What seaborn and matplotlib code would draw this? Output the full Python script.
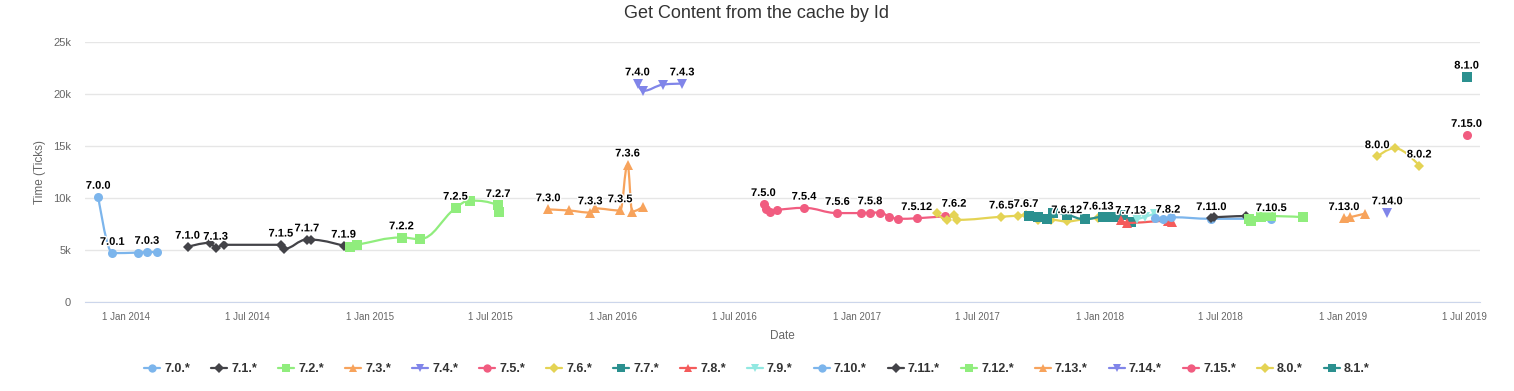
import matplotlib
matplotlib.use('Agg')
import matplotlib.pyplot as plt
import matplotlib.patheffects as pe
from matplotlib.lines import Line2D
from matplotlib.path import Path
from matplotlib.patches import PathPatch
from matplotlib.ticker import FuncFormatter, MultipleLocator
import matplotlib.dates as mdates
import pandas as pd
import seaborn as sns

SERIES = ["7.0.*", "7.1.*", "7.2.*", "7.3.*", "7.4.*", "7.5.*", "7.6.*", "7.7.*", "7.8.*",
          "7.9.*", "7.10.*", "7.11.*", "7.12.*", "7.13.*", "7.14.*", "7.15.*", "8.0.*", "8.1.*"]
COLORS = ["#7cb5ec", "#434348", "#90ed7d", "#f7a35c", "#8085e9", "#f15c80", "#e4d354", "#2b908f",
          "#f45b5b", "#91e8e1", "#7cb5ec", "#434348", "#90ed7d", "#f7a35c", "#8085e9", "#f15c80",
          "#e4d354", "#2b908f"]
MARKERS = ["o", "D", "s", "^", "v"] * 3 + ["o", "D", "s"]

DATES = {
    "7.0.*": ["2013-11-20", "2013-12-11", "2014-01-18", "2014-02-01", "2014-02-16"],
    "7.1.*": ["2014-04-03", "2014-05-07", "2014-05-15", "2014-05-27", "2014-08-21", "2014-08-25",
              "2014-09-29", "2014-10-05", "2014-11-23"],
    "7.2.*": ["2014-12-02", "2014-12-13", "2015-02-18", "2015-03-17", "2015-05-10", "2015-06-01",
              "2015-07-13", "2015-07-14"],
    "7.3.*": ["2015-09-26", "2015-10-27", "2015-11-28", "2015-12-05", "2016-01-12", "2016-01-23",
              "2016-01-30", "2016-02-15"],
    "7.4.*": ["2016-02-07", "2016-02-15", "2016-03-16", "2016-04-14"],
    "7.5.*": ["2016-08-14", "2016-08-18", "2016-08-23", "2016-09-03", "2016-10-14", "2016-12-03",
              "2017-01-07", "2017-01-21", "2017-02-05", "2017-02-19", "2017-03-04", "2017-04-01",
              "2017-05-13"],
    "7.6.*": ["2017-05-01", "2017-05-16", "2017-05-27", "2017-06-01", "2017-08-06", "2017-08-31",
              "2017-09-12", "2017-09-30", "2017-10-20", "2017-11-12", "2017-12-07", "2017-12-29"],
    "7.7.*": ["2017-09-16", "2017-09-30", "2017-10-13", "2017-10-22", "2017-11-12", "2017-12-09",
              "2018-01-06", "2018-01-21", "2018-02-04", "2018-02-16"],
    "7.8.*": ["2018-02-01", "2018-02-10", "2018-04-13", "2018-04-19"],
    "7.9.*": ["2018-02-25", "2018-03-10", "2018-03-24"],
    "7.10.*": ["2018-03-24", "2018-04-06", "2018-04-18", "2018-06-17", "2018-08-13", "2018-09-15"],
    "7.11.*": ["2018-06-17", "2018-06-21", "2018-08-08"],
    "7.12.*": ["2018-08-13", "2018-08-16", "2018-08-31", "2018-09-15", "2018-11-02"],
    "7.13.*": ["2019-01-02", "2019-01-11", "2019-02-02"],
    "7.14.*": ["2019-03-08"],
    "7.15.*": ["2019-07-05"],
    "8.0.*": ["2019-02-21", "2019-03-19", "2019-04-25"],
    "8.1.*": ["2019-07-05"],
}

VALUES = {
    "7.0.*": [10100, 4700, 4750, 4800, 4800],
    "7.1.*": [5300, 5700, 5200, 5500, 5500, 5100, 6000, 6000, 5400],
    "7.2.*": [5300, 5500, 6200, 6050, 9050, 9750, 9300, 8700],
    "7.3.*": [8900, 8800, 8600, 9000, 8800, 13200, 8700, 9150],
    "7.4.*": [21000, 20300, 20900, 21000],
    "7.5.*": [9400, 8900, 8700, 8850, 9050, 8550, 8550, 8600, 8600, 8200, 8000, 8050, 8250],
    "7.6.*": [8530, 7900, 8370, 7900, 8200, 8300, 8350, 7900, 7900, 7750, 7950, 8100],
    "7.7.*": [8270, 8150, 7950, 8600, 8400, 7950, 8200, 8150, 8400, 7700],
    "7.8.*": [7900, 7600, 7800, 7700],
    "7.9.*": [7950, 8200, 8500],
    "7.10.*": [8050, 7950, 8150, 8000, 8000, 7950],
    "7.11.*": [8050, 8150, 8270],
    "7.12.*": [7950, 7800, 8150, 8270, 8150],
    "7.13.*": [8050, 8150, 8500],
    "7.14.*": [8600],
    "7.15.*": [16050],
    "8.0.*": [14000, 14800, 13100],
    "8.1.*": [21650],
}

# (series, point index, version text) for the data labels that are visible
POINT_LABELS = [
    ("7.0.*", 0, "7.0.0"), ("7.0.*", 1, "7.0.1"), ("7.0.*", 3, "7.0.3"),
    ("7.1.*", 0, "7.1.0"), ("7.1.*", 2, "7.1.3"), ("7.1.*", 4, "7.1.5"), ("7.1.*", 6, "7.1.7"),
    ("7.1.*", 8, "7.1.9"),
    ("7.2.*", 2, "7.2.2"), ("7.2.*", 4, "7.2.5"), ("7.2.*", 6, "7.2.7"),
    ("7.3.*", 0, "7.3.0"), ("7.3.*", 2, "7.3.3"), ("7.3.*", 4, "7.3.5"), ("7.3.*", 5, "7.3.6"),
    ("7.4.*", 0, "7.4.0"), ("7.4.*", 3, "7.4.3"),
    ("7.5.*", 0, "7.5.0"), ("7.5.*", 4, "7.5.4"), ("7.5.*", 5, "7.5.6"), ("7.5.*", 7, "7.5.8"),
    ("7.5.*", 11, "7.5.12"),
    ("7.6.*", 2, "7.6.2"), ("7.6.*", 4, "7.6.5"), ("7.6.*", 6, "7.6.7"), ("7.6.*", 9, "7.6.12"),
    ("7.6.*", 11, "7.6.13"),
    ("7.7.*", 9, "7.7.13"), ("7.8.*", 2, "7.8.2"), ("7.10.*", 5, "7.10.5"), ("7.11.*", 0, "7.11.0"),
    ("7.13.*", 0, "7.13.0"), ("7.14.*", 0, "7.14.0"), ("7.15.*", 0, "7.15.0"),
    ("8.0.*", 0, "8.0.0"), ("8.0.*", 2, "8.0.2"), ("8.1.*", 0, "8.1.0"),
]


def spline_path(xs, ys, smoothing=1.5):
    # cubic bezier path built the way highcharts draws its "spline" series
    n = len(xs)
    left = [None] * n
    right = [None] * n
    for i in range(1, n - 1):
        px, py = xs[i], ys[i]
        lx, ly = xs[i - 1], ys[i - 1]
        nx, ny = xs[i + 1], ys[i + 1]
        d = smoothing + 1
        lcx, lcy = (smoothing * px + lx) / d, (smoothing * py + ly) / d
        rcx, rcy = (smoothing * px + nx) / d, (smoothing * py + ny) / d
        corr = 0
        if rcx != lcx:
            corr = (rcy - lcy) * (rcx - px) / (rcx - lcx) + py - rcy
        lcy += corr
        rcy += corr
        if lcy > ly and lcy > py:
            lcy = max(ly, py)
            rcy = 2 * py - lcy
        elif lcy < ly and lcy < py:
            lcy = min(ly, py)
            rcy = 2 * py - lcy
        if rcy > ny and rcy > py:
            rcy = max(ny, py)
            lcy = 2 * py - rcy
        elif rcy < ny and rcy < py:
            rcy = min(ny, py)
            lcy = 2 * py - rcy
        left[i] = (lcx, lcy)
        right[i] = (rcx, rcy)
    verts = [(xs[0], ys[0])]
    codes = [Path.MOVETO]
    for i in range(1, n):
        c1 = right[i - 1] or (xs[i - 1], ys[i - 1])
        c2 = left[i] or (xs[i], ys[i])
        verts += [c1, c2, (xs[i], ys[i])]
        codes += [Path.CURVE4] * 3
    return Path(verts, codes)


rows = []
for s in SERIES:
    for d, v in zip(DATES[s], VALUES[s]):
        rows.append({"date": pd.Timestamp(d), "value": v, "series": s})
df = pd.DataFrame(rows)

sns.set_style("white")
plt.rcParams['font.family'] = ['Liberation Sans', 'DejaVu Sans']

fig = plt.figure(figsize=(15.14, 3.91), dpi=100)
ax = fig.add_axes([85 / 1514, 1 - 302 / 391, (1480 - 85) / 1514, (302 - 42) / 391])

# markers through seaborn, connecting splines drawn underneath each series
sns.lineplot(
    data=df, x="date", y="value", hue="series", style="series",
    hue_order=SERIES, style_order=SERIES,
    palette=dict(zip(SERIES, COLORS)), markers=dict(zip(SERIES, MARKERS)),
    dashes=False, sort=False, estimator=None, legend=False,
    linewidth=0, markersize=6.5, markeredgewidth=0, ax=ax
)

for k, (s, line) in enumerate(zip(SERIES, ax.lines)):
    line.set_zorder(3 + k * 0.01 + 0.005)
    if line.get_marker() == "D":
        line.set_markersize(4.8)
    xs = list(mdates.date2num(pd.to_datetime(DATES[s])))
    ys = VALUES[s]
    if len(xs) > 1:
        ax.add_patch(PathPatch(spline_path(xs, ys), facecolor="none", edgecolor=COLORS[k],
                               linewidth=1.6, capstyle="round", joinstyle="round",
                               zorder=3 + k * 0.01))

for s, i, txt in POINT_LABELS:
    ax.annotate(txt, (pd.Timestamp(DATES[s][i]), VALUES[s][i]), xytext=(0, 4.5),
                textcoords="offset points", ha="center", va="bottom", fontsize=8,
                fontweight="bold", color="black", zorder=10,
                path_effects=[pe.withStroke(linewidth=2, foreground="white")])

ax.set_xlim(pd.Timestamp("2013-10-31"), pd.Timestamp("2019-07-25"))
ax.set_ylim(0, 25000)
ax.yaxis.set_major_locator(MultipleLocator(5000))
ax.yaxis.set_major_formatter(FuncFormatter(lambda v, p: "0" if v == 0 else f"{int(v / 1000)}k"))
ax.xaxis.set_major_locator(mdates.MonthLocator(bymonth=[1, 7]))
ax.xaxis.set_major_formatter(FuncFormatter(
    lambda v, p: (lambda d: f"{d.day} {d:%b %Y}")(mdates.num2date(v))))

ax.grid(axis="y", color="#e6e6e6", linewidth=1)
ax.grid(axis="x", visible=False)
for side in ["top", "right", "left"]:
    ax.spines[side].set_visible(False)
ax.spines["bottom"].set_color("#ccd6eb")
ax.tick_params(axis="y", length=0, pad=10, labelsize=8, labelcolor="#666666")
ax.tick_params(axis="x", length=7, width=1, color="#ccd6eb", pad=0, labelsize=7,
               labelcolor="#666666")

ax.set_xlabel("Date", fontsize=8.5, color="#666666", labelpad=6)
ax.set_ylabel("Time (Ticks)", fontsize=8.5, color="#666666", labelpad=5)
fig.suptitle("Get Content from the cache by Id", y=1 - 14 / 391, va="center",
             fontsize=13, color="#333333")

handles = [Line2D([], [], color=c, marker=m, linewidth=1.6, markeredgewidth=0,
                  markersize=4.8 if m == "D" else 6)
           for c, m in zip(COLORS, MARKERS)]
leg = fig.legend(handles, SERIES, ncol=len(SERIES), loc="center",
                 bbox_to_anchor=(757 / 1514, 1 - 369 / 391), frameon=False,
                 handlelength=1.3, handletextpad=0.3, columnspacing=1.7,
                 prop={"size": 9, "weight": "bold"})
for t in leg.get_texts():
    t.set_color("#333333")

fig.savefig("out.png", dpi=100)
